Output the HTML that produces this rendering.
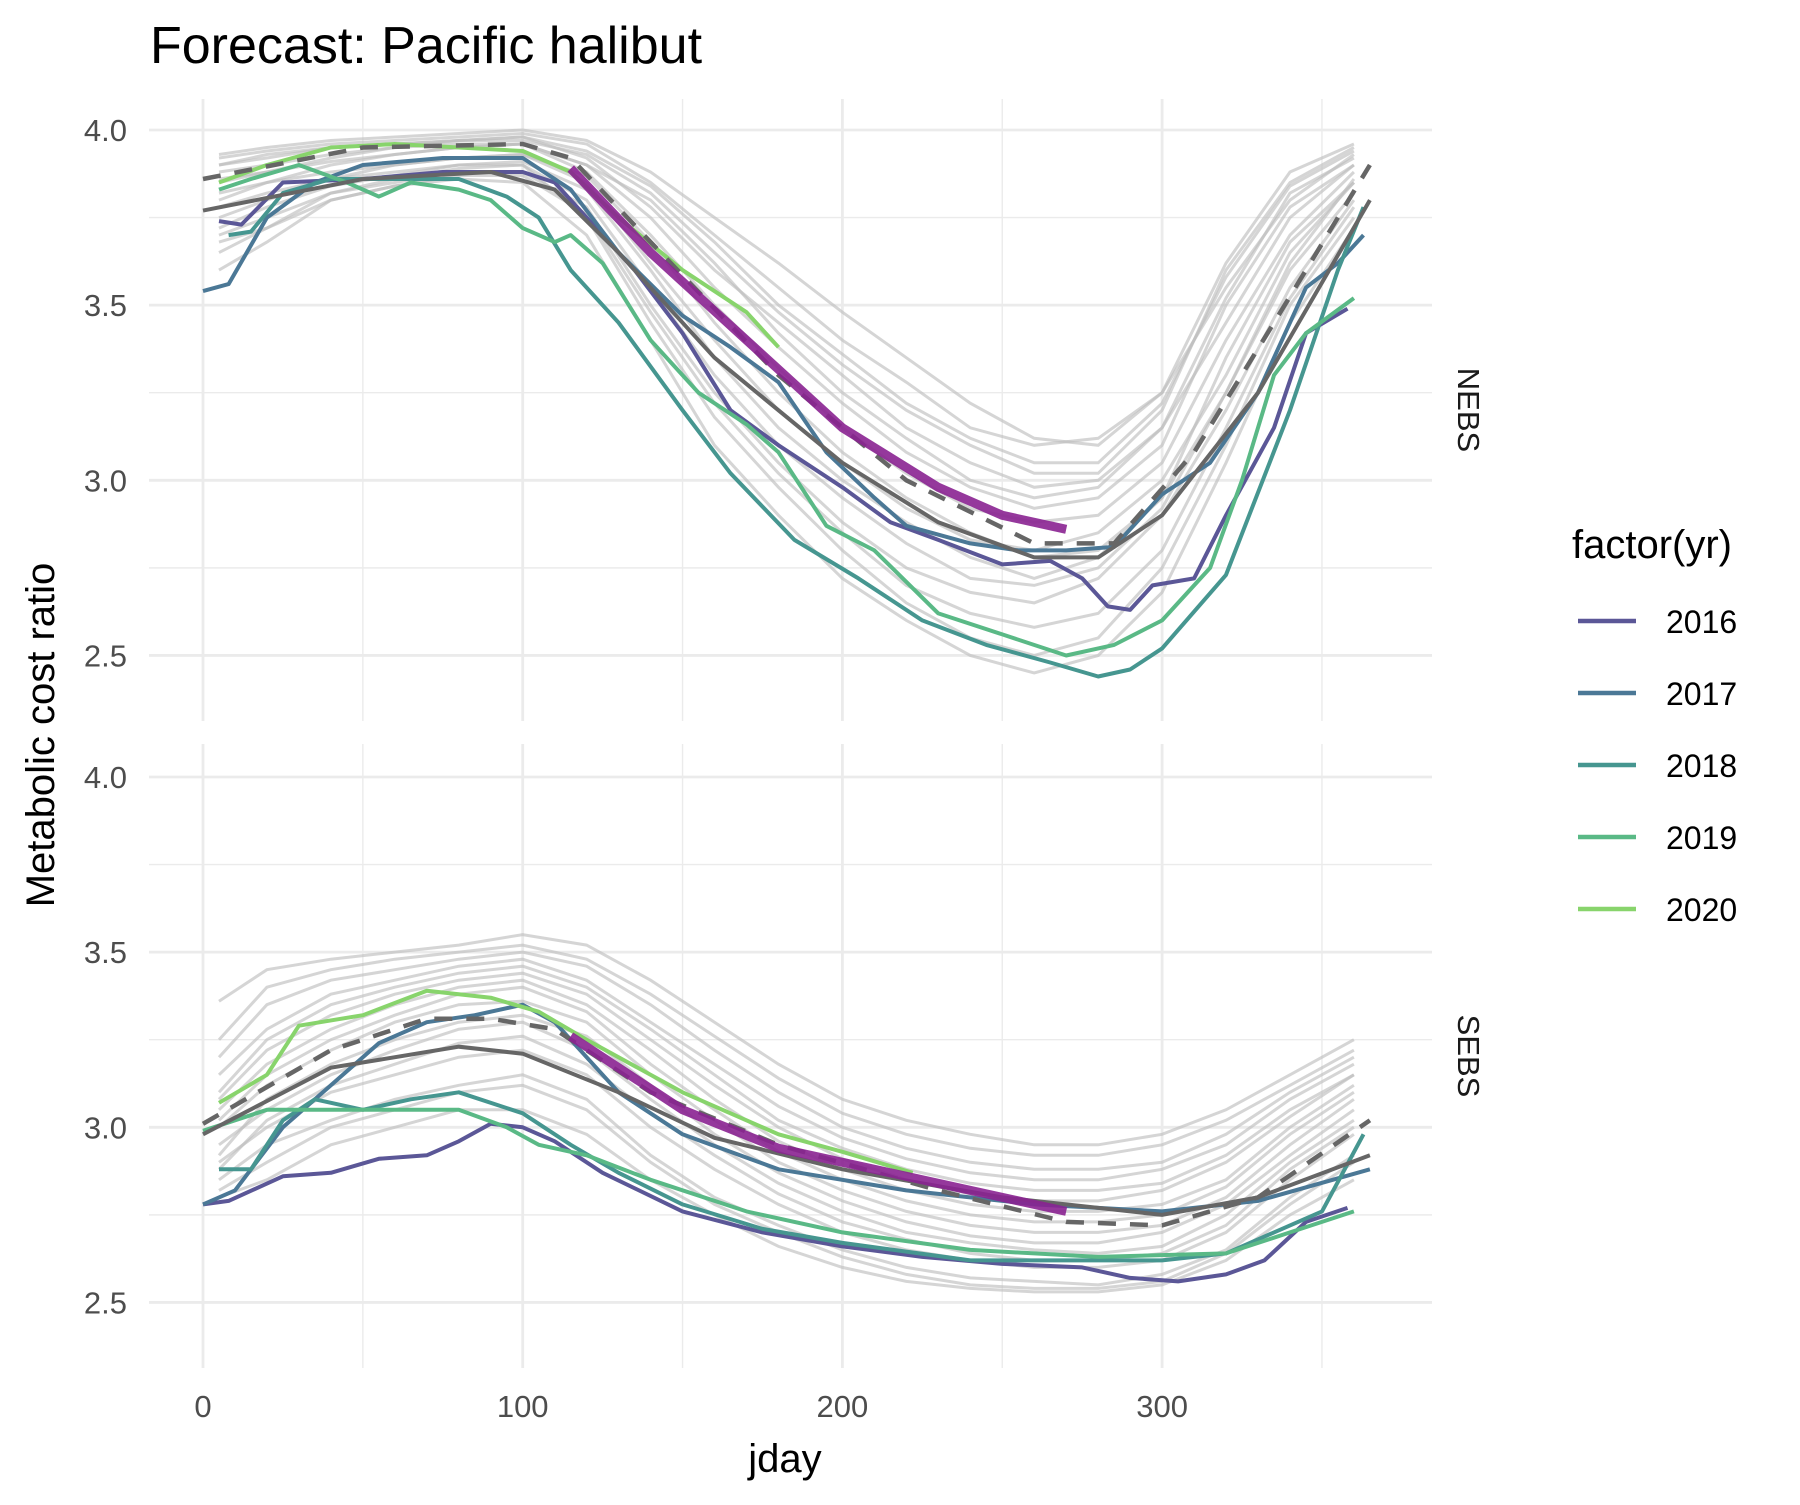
<!DOCTYPE html>
<html><head><meta charset="utf-8"><style>
body{margin:0;background:#fff}
svg text{font-family:"Liberation Sans",Arial,sans-serif}
</style></head><body>
<svg id="chart" xmlns="http://www.w3.org/2000/svg" width="1800" height="1500" viewBox="0 0 1800 1500">
<rect width="1800" height="1500" fill="#fff"/>
<text x="150" y="63" font-size="52" fill="#000">Forecast: Pacific halibut</text>
<text x="785" y="1472" font-size="40" text-anchor="middle" fill="#000">jday</text>
<text transform="translate(54,735) rotate(-90)" font-size="40" text-anchor="middle" fill="#000">Metabolic cost ratio</text>
<g id="panels"></g>
<g id="legend">
<text x="1572" y="558" font-size="40" fill="#000">factor(yr)</text>
</g>
</svg>
<script>
const NS="http://www.w3.org/2000/svg";
const xTicks=[0,100,200,300];
const xMinor=[50,150,250,350];
const yTicks=[2.5,3.0,3.5,4.0];
const yMinor=[2.75,3.25,3.75];
const years=["2016","2017","2018","2019","2020"];
const yearColors=["#5b5797","#4b7896","#469690","#5ab986","#88d46c"];
const gx=[5,20,40,60,80,100,120,140,160,180,200,220,240,260,280,300,320,340,360];
const nebsGrey=[
[3.92,3.94,3.96,3.97,3.98,3.99,3.96,3.85,3.70,3.55,3.40,3.28,3.15,3.10,3.12,3.25,3.55,3.80,3.93],
[3.88,3.90,3.93,3.95,3.97,3.98,3.92,3.78,3.60,3.45,3.30,3.15,3.05,2.98,3.00,3.15,3.45,3.75,3.90],
[3.80,3.85,3.90,3.93,3.95,3.96,3.88,3.70,3.50,3.32,3.15,3.02,2.92,2.88,2.90,3.05,3.40,3.70,3.88],
[3.75,3.80,3.86,3.90,3.92,3.93,3.85,3.62,3.40,3.20,3.05,2.92,2.83,2.80,2.85,3.00,3.30,3.65,3.85],
[3.70,3.75,3.82,3.85,3.88,3.88,3.78,3.50,3.25,3.05,2.88,2.75,2.68,2.65,2.72,2.90,3.20,3.55,3.80],
[3.60,3.68,3.80,3.84,3.86,3.85,3.70,3.40,3.10,2.90,2.72,2.60,2.50,2.45,2.50,2.68,3.05,3.45,3.72],
[3.90,3.92,3.95,3.96,3.97,3.97,3.93,3.82,3.65,3.48,3.33,3.20,3.10,3.02,3.02,3.20,3.60,3.85,3.95],
[3.85,3.88,3.92,3.95,3.96,3.96,3.90,3.75,3.55,3.38,3.22,3.08,2.98,2.92,2.95,3.10,3.50,3.78,3.90],
[3.82,3.85,3.88,3.90,3.92,3.93,3.87,3.68,3.45,3.25,3.08,2.95,2.85,2.78,2.80,2.95,3.35,3.68,3.85],
[3.78,3.82,3.86,3.88,3.90,3.90,3.80,3.55,3.30,3.10,2.95,2.82,2.72,2.70,2.75,2.92,3.25,3.60,3.82],
[3.65,3.72,3.82,3.86,3.89,3.90,3.75,3.45,3.18,2.98,2.80,2.65,2.55,2.50,2.55,2.75,3.10,3.50,3.75],
[3.93,3.95,3.97,3.98,3.99,4.00,3.97,3.88,3.75,3.62,3.48,3.35,3.22,3.12,3.10,3.25,3.62,3.88,3.96],
[3.86,3.88,3.91,3.93,3.95,3.96,3.90,3.80,3.62,3.42,3.25,3.12,3.00,2.95,2.98,3.15,3.52,3.82,3.92],
[3.72,3.78,3.84,3.87,3.90,3.91,3.83,3.60,3.35,3.15,3.00,2.88,2.78,2.72,2.78,2.95,3.25,3.62,3.86],
[3.68,3.72,3.80,3.84,3.87,3.87,3.76,3.48,3.22,3.02,2.85,2.70,2.62,2.58,2.62,2.80,3.15,3.52,3.78],
[3.90,3.93,3.95,3.96,3.97,3.98,3.94,3.84,3.68,3.50,3.36,3.22,3.12,3.05,3.05,3.22,3.58,3.84,3.94]];
const sebsGrey=[
[3.36,3.45,3.48,3.50,3.52,3.55,3.52,3.42,3.30,3.18,3.08,3.02,2.98,2.95,2.95,2.98,3.05,3.15,3.25],
[3.20,3.35,3.42,3.45,3.48,3.50,3.46,3.35,3.22,3.10,3.00,2.94,2.90,2.88,2.88,2.90,2.98,3.10,3.20],
[3.10,3.25,3.35,3.40,3.44,3.46,3.40,3.28,3.15,3.02,2.94,2.88,2.84,2.82,2.82,2.84,2.92,3.05,3.15],
[3.05,3.18,3.28,3.35,3.40,3.42,3.35,3.22,3.08,2.96,2.88,2.82,2.78,2.76,2.76,2.78,2.85,3.00,3.12],
[3.00,3.12,3.22,3.30,3.35,3.36,3.30,3.15,3.02,2.90,2.82,2.76,2.72,2.70,2.70,2.72,2.80,2.95,3.08],
[2.95,3.05,3.15,3.22,3.28,3.30,3.22,3.08,2.95,2.84,2.76,2.70,2.67,2.65,2.64,2.66,2.75,2.90,3.02],
[2.90,3.00,3.10,3.15,3.20,3.22,3.15,3.00,2.88,2.78,2.70,2.65,2.62,2.60,2.60,2.62,2.70,2.85,2.98],
[2.85,2.95,3.02,3.08,3.12,3.15,3.08,2.92,2.80,2.72,2.65,2.60,2.57,2.56,2.55,2.58,2.65,2.80,2.92],
[2.80,2.85,2.95,3.00,3.05,3.05,2.98,2.85,2.75,2.66,2.60,2.56,2.54,2.53,2.53,2.55,2.62,2.75,2.85],
[3.15,3.28,3.38,3.42,3.46,3.48,3.42,3.30,3.18,3.06,2.97,2.91,2.87,2.85,2.85,2.88,2.95,3.08,3.18],
[3.02,3.15,3.25,3.32,3.38,3.40,3.33,3.18,3.05,2.93,2.85,2.79,2.75,2.73,2.73,2.75,2.83,2.98,3.10],
[2.92,3.08,3.18,3.25,3.30,3.32,3.26,3.12,2.98,2.87,2.79,2.73,2.69,2.67,2.67,2.70,2.78,2.92,3.05],
[3.25,3.40,3.45,3.48,3.50,3.52,3.48,3.38,3.26,3.14,3.04,2.98,2.94,2.92,2.92,2.95,3.02,3.12,3.22],
[2.88,3.02,3.12,3.18,3.24,3.26,3.18,3.04,2.92,2.81,2.73,2.68,2.64,2.62,2.62,2.64,2.72,2.88,3.00],
[2.82,2.90,3.00,3.05,3.10,3.12,3.05,2.90,2.78,2.70,2.63,2.58,2.55,2.54,2.54,2.56,2.64,2.78,2.90],
[3.08,3.22,3.32,3.38,3.42,3.44,3.38,3.25,3.12,3.00,2.91,2.85,2.81,2.79,2.79,2.82,2.90,3.03,3.15]];
const nebs2016=[[5,3.74],[12,3.73],[25,3.85],[50,3.86],[75,3.88],[100,3.88],[110,3.85],[120,3.75],[135,3.6],[150,3.42],[165,3.2],[180,3.1],[200,2.98],[215,2.88],[230,2.83],[250,2.76],[265,2.77],[275,2.72],[283,2.64],[290,2.63],[297,2.70],[310,2.72],[320,2.90],[335,3.15],[345,3.42],[358,3.49]];
const nebs2017=[[0,3.54],[8,3.56],[20,3.75],[35,3.85],[50,3.90],[75,3.92],[100,3.92],[115,3.83],[130,3.65],[150,3.47],[165,3.38],[180,3.28],[195,3.08],[210,2.95],[220,2.87],[240,2.82],[255,2.80],[270,2.80],[285,2.81],[300,2.96],[315,3.05],[330,3.25],[345,3.55],[355,3.62],[363,3.70]];
const nebs2018=[[8,3.70],[15,3.71],[25,3.82],[40,3.86],[60,3.86],[80,3.86],[95,3.81],[105,3.75],[115,3.60],[130,3.45],[150,3.2],[165,3.02],[185,2.83],[205,2.72],[225,2.60],[245,2.53],[265,2.48],[280,2.44],[290,2.46],[300,2.52],[320,2.73],[340,3.20],[355,3.60],[363,3.78]];
const nebs2019=[[5,3.83],[15,3.86],[30,3.90],[45,3.85],[55,3.81],[65,3.85],[80,3.83],[90,3.80],[100,3.72],[110,3.68],[115,3.70],[125,3.62],[140,3.40],[155,3.25],[170,3.16],[180,3.08],[195,2.87],[210,2.80],[230,2.62],[250,2.56],[270,2.50],[285,2.53],[300,2.60],[315,2.75],[325,3.0],[335,3.30],[345,3.42],[360,3.52]];
const nebs2020=[[5,3.85],[20,3.90],[40,3.95],[60,3.96],[80,3.95],[100,3.94],[115,3.88],[130,3.75],[150,3.60],[170,3.48],[180,3.38]];
const nebsMean=[[0,3.77],[50,3.86],[90,3.88],[110,3.83],[130,3.65],[160,3.35],[200,3.05],[230,2.88],[260,2.78],[280,2.78],[300,2.90],[330,3.25],[365,3.80]];
const nebsDashed=[[0,3.86],[50,3.95],[100,3.96],[115,3.92],[140,3.68],[180,3.30],[220,3.00],[260,2.82],[285,2.82],[310,3.08],[335,3.45],[365,3.90]];
const nebsForecast=[[115,3.89],[140,3.65],[170,3.40],[200,3.15],[230,2.98],[250,2.90],[270,2.86]];
const sebs2016=[[0,2.78],[8,2.79],[25,2.86],[40,2.87],[55,2.91],[70,2.92],[80,2.96],[90,3.01],[100,3.00],[110,2.96],[125,2.87],[150,2.76],[175,2.70],[200,2.66],[225,2.63],[250,2.61],[275,2.60],[290,2.57],[305,2.56],[320,2.58],[332,2.62],[345,2.73],[358,2.77]];
const sebs2017=[[0,2.78],[10,2.82],[25,3.00],[40,3.12],[55,3.24],[70,3.30],[85,3.32],[100,3.35],[110,3.30],[130,3.10],[150,2.98],[180,2.88],[220,2.82],[260,2.78],[280,2.77],[300,2.76],[330,2.79],[365,2.88]];
const sebs2018=[[5,2.88],[15,2.88],[25,3.02],[35,3.08],[50,3.05],[65,3.08],[80,3.10],[100,3.04],[115,2.95],[130,2.87],[150,2.78],[175,2.71],[200,2.67],[240,2.62],[280,2.62],[300,2.62],[320,2.64],[335,2.70],[350,2.76],[363,2.98]];
const sebs2019=[[0,2.99],[20,3.05],[40,3.05],[60,3.05],[80,3.05],[95,3.00],[105,2.95],[120,2.92],[140,2.85],[170,2.76],[200,2.70],[240,2.65],[280,2.63],[320,2.64],[340,2.70],[360,2.76]];
const sebs2020=[[5,3.07],[20,3.15],[30,3.29],[50,3.32],[70,3.39],[90,3.37],[105,3.33],[120,3.25],[150,3.10],[180,2.98],[200,2.93],[222,2.87]];
const sebsMean=[[0,2.98],[40,3.17],[80,3.23],[100,3.21],[130,3.10],[160,2.97],[200,2.88],[250,2.80],[300,2.75],[330,2.80],[365,2.92]];
const sebsDashed=[[0,3.01],[40,3.22],[70,3.31],[90,3.31],[110,3.28],[140,3.10],[180,2.95],[230,2.82],[270,2.73],[300,2.72],[330,2.80],[365,3.02]];
const sebsForecast=[[115,3.26],[150,3.05],[180,2.94],[220,2.86],[250,2.80],[270,2.76]];

const PX0=149,PX1=1432;
const xs=d=>203+d*3.197;
function mkY(top){return v=>top+(4.0-v)*350.3;}
const panels=[
 {name:"NEBS",top:99,bot:721,y40:130,grey:nebsGrey,years:[nebs2016,nebs2017,nebs2018,nebs2019,nebs2020],mean:nebsMean,dashed:nebsDashed,fc:nebsForecast},
 {name:"SEBS",top:744,bot:1368,y40:777,grey:sebsGrey,years:[sebs2016,sebs2017,sebs2018,sebs2019,sebs2020],mean:sebsMean,dashed:sebsDashed,fc:sebsForecast}];
const root=document.getElementById('panels');
function el(tag,attrs,parent){const e=document.createElementNS(NS,tag);for(const k in attrs)e.setAttribute(k,attrs[k]);parent.appendChild(e);return e;}
function pts(arr,ys){return arr.map(p=>xs(p[0]).toFixed(1)+","+ys(p[1]).toFixed(1)).join(" ");}
panels.forEach((p,pi)=>{
  const ys=mkY(p.y40);
  const g=el('g',{},root);
  
  
  const cp=el('clipPath',{id:'clip'+pi},g);
  el('rect',{x:PX0,y:p.top,width:PX1-PX0,height:p.bot-p.top},cp);
  xMinor.forEach(t=>{const l=el('line',{x1:xs(t),x2:xs(t),y1:p.top,y2:p.bot,stroke:'#ebebeb','stroke-width':1.4},g);});
  yMinor.forEach(t=>{const l=el('line',{x1:PX0,x2:PX1,y1:ys(t),y2:ys(t),stroke:'#ebebeb','stroke-width':1.4},g);});
  xTicks.forEach(t=>{const l=el('line',{x1:xs(t),x2:xs(t),y1:p.top,y2:p.bot,stroke:'#ebebeb','stroke-width':2.8},g);});
  yTicks.forEach(t=>{const l=el('line',{x1:PX0,x2:PX1,y1:ys(t),y2:ys(t),stroke:'#ebebeb','stroke-width':2.8},g);
    const tx=el('text',{x:127,y:ys(t)+11,'font-size':31,'text-anchor':'end',fill:'#4d4d4d'},g);tx.textContent=t.toFixed(1);
    });
  const d=el('g',{'clip-path':'url(#clip'+pi+')'},g);
  p.grey.forEach(v=>{const l=el('polyline',{points:pts(gx.map((x,i)=>[x,v[i]]),ys),fill:'none',stroke:'#bebebe','stroke-opacity':0.65,'stroke-width':3},d);
    });
  p.years.forEach((arr,i)=>{const l=el('polyline',{points:pts(arr,ys),fill:'none',stroke:yearColors[i],'stroke-width':4,'stroke-linejoin':'round'},d);
    });
  const m=el('polyline',{points:pts(p.mean,ys),fill:'none',stroke:'#666','stroke-width':4},d);
  
  const ds=el('polyline',{points:pts(p.dashed,ys),fill:'none',stroke:'#666','stroke-width':4.5,'stroke-dasharray':'18 14'},d);
  
  const fc=el('polyline',{points:pts(p.fc,ys),fill:'none',stroke:'#8a2291','stroke-opacity':0.9,'stroke-width':9},d);
  
  const cy=(p.top+p.bot)/2;
  const st=el('text',{transform:'translate(1458,'+cy+') rotate(90)','font-size':31,'text-anchor':'middle',fill:'#1a1a1a'},g);
  st.textContent=p.name;
  
});
xTicks.forEach(t=>{const tx=el('text',{x:xs(t),y:1417,'font-size':31,'text-anchor':'middle',fill:'#4d4d4d'},root);tx.textContent=t;
  });
const lg=document.getElementById('legend');
years.forEach((y,i)=>{const cy=621+i*72;
  const k=el('line',{x1:1578,x2:1636,y1:cy,y2:cy,stroke:yearColors[i],'stroke-width':4.5},lg);
  
  const t=el('text',{x:1666,y:cy+12,'font-size':32,fill:'#000'},lg);t.textContent=y;
  });
</script>
</body></html>
